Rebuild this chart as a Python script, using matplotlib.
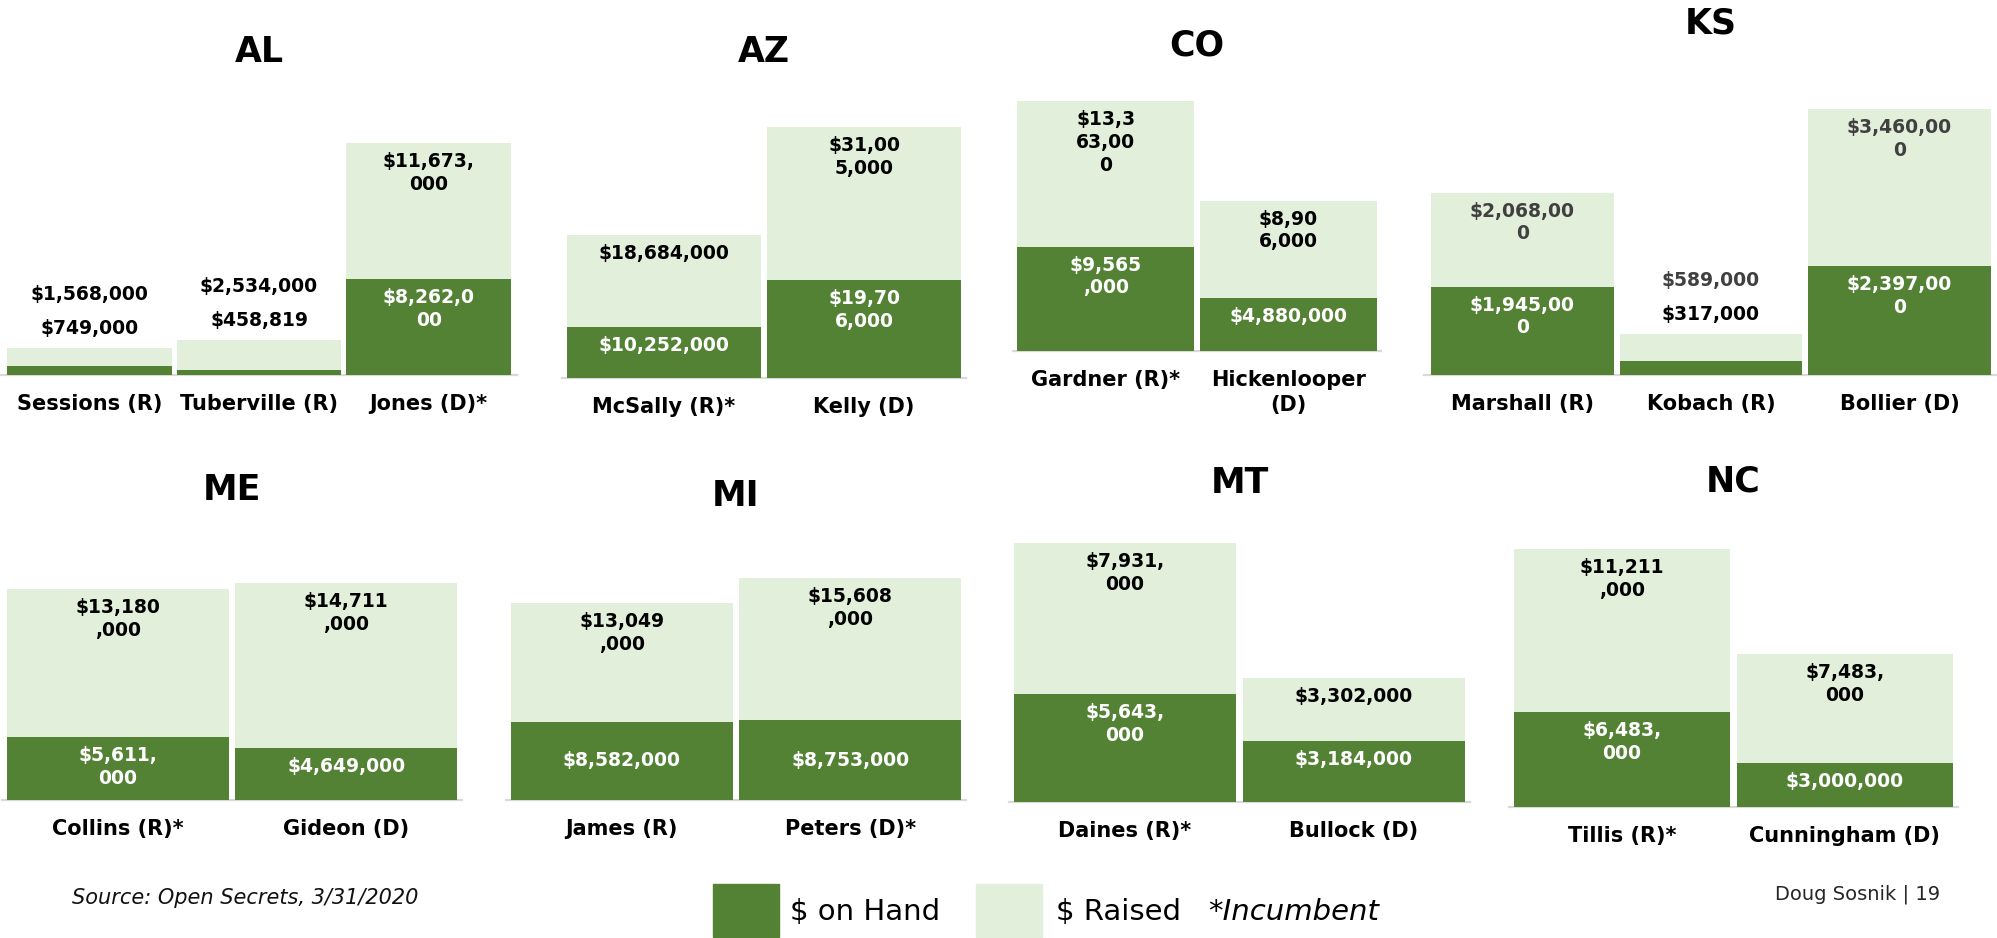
import matplotlib.pyplot as plt
from matplotlib.patches import Rectangle

plt.rcParams['text.parse_math'] = False
plt.rcParams['font.family'] = ['DejaVu Sans']

DARK = '#548235'
LIGHT = '#E2EFDA'

# --- data: cash on hand and money raised per candidate (Open Secrets, 3/31/2020) ---
states = ["AL", "AZ", "CO", "KS", "ME", "MI", "MT", "NC"]

al_names = ["Sessions (R)", "Tuberville (R)", "Jones (D)*"]
al_hand = [749000, 458819, 8262000]
al_raised = [1568000, 2534000, 11673000]

az_names = ["McSally (R)*", "Kelly (D)"]
az_hand = [10252000, 19706000]
az_raised = [18684000, 31005000]

co_names = ["Gardner (R)*", "Hickenlooper\n(D)"]
co_hand = [9565000, 4880000]
co_raised = [13363000, 8906000]

ks_names = ["Marshall (R)", "Kobach (R)", "Bollier (D)"]
ks_hand = [1945000, 317000, 2397000]
ks_raised = [2068000, 589000, 3460000]

me_names = ["Collins (R)*", "Gideon (D)"]
me_hand = [5611000, 4649000]
me_raised = [13180000, 14711000]

mi_names = ["James (R)", "Peters (D)*"]
mi_hand = [8582000, 8753000]
mi_raised = [13049000, 15608000]

mt_names = ["Daines (R)*", "Bullock (D)"]
mt_hand = [5643000, 3184000]
mt_raised = [7931000, 3302000]

nc_names = ["Tillis (R)*", "Cunningham (D)"]
nc_hand = [6483000, 3000000]
nc_raised = [11211000, 7483000]

# how many characters fit on one line of each data label (0 = no wrap), as in the slide
wrap_hand = {"AL": [0, 0, 8], "AZ": [0, 6], "CO": [6, 0], "KS": [9, 0, 9],
             "ME": [7, 0], "MI": [0, 0], "MT": [7, 0], "NC": [7, 0]}
wrap_raised = {"AL": [0, 0, 8], "AZ": [0, 6], "CO": [5, 5], "KS": [9, 0, 9],
               "ME": [7, 7], "MI": [7, 7], "MT": [7, 0], "NC": [7, 7]}

# --- layout in pixels: left, right, baseline, top of tallest bar, title y ---
W, H = 1997, 938
layout = {
    "AL": (7, 511, 375, 143, 52),
    "AZ": (567, 961, 378, 127, 52),
    "CO": (1017, 1377, 351, 101, 45),
    "KS": (1431, 1991, 375, 109, 23),
    "ME": (7, 457, 800, 583, 490),
    "MI": (511, 961, 800, 578, 496),
    "MT": (1014, 1465, 802, 543, 483),
    "NC": (1514, 1953, 807, 549, 482),
}

data = {
    "AL": (al_names, al_hand, al_raised),
    "AZ": (az_names, az_hand, az_raised),
    "CO": (co_names, co_hand, co_raised),
    "KS": (ks_names, ks_hand, ks_raised),
    "ME": (me_names, me_hand, me_raised),
    "MI": (mi_names, mi_hand, mi_raised),
    "MT": (mt_names, mt_hand, mt_raised),
    "NC": (nc_names, nc_hand, nc_raised),
}


def money(v, wrap):
    s = f"${v:,}"
    if wrap:
        s = "\n".join(s[i:i + wrap] for i in range(0, len(s), wrap))
    return s


PX = 0.72  # points per pixel at dpi 100
FS = 13.5
fig = plt.figure(figsize=(W / 100, H / 100), dpi=100)

for st in states:
    names, hand, raised = data[st]
    l, r, base, top, ty = layout[st]
    ax = fig.add_axes([l / W, 1 - base / H, (r - l) / W, (base - top) / H])
    n = len(names)
    x = list(range(n))
    totals = [h + g for h, g in zip(hand, raised)]
    ymax = max(totals)
    px_per_unit = (base - top) / ymax
    bw = 0.97

    ax.bar(x, hand, width=bw, color=DARK, zorder=2)
    ax.bar(x, raised, bottom=hand, width=bw, color=LIGHT, zorder=2)
    ax.set_xlim(-bw / 2, n - 1 + bw / 2)
    ax.set_ylim(0, ymax)
    ax.axhline(0, xmin=-0.012, xmax=1.012, color='#D9D9D9', lw=1.6, clip_on=False, zorder=1)
    for s in ax.spines.values():
        s.set_visible(False)
    ax.set_yticks([])
    ax.set_xticks(x, names)
    ax.tick_params(axis='x', length=0, pad=14, labelsize=15)
    for t in ax.get_xticklabels():
        t.set_fontweight('bold')
        t.set_linespacing(1.3)

    raised_col = '#404040' if st == "KS" else 'black'
    for i in x:
        hl = money(hand[i], wrap_hand[st][i])
        rl = money(raised[i], wrap_raised[st][i])
        if totals[i] * px_per_unit < 50:
            # bar too short: Excel pushes the labels above it
            ax.annotate(hl, (i, totals[i]), xytext=(0, 10 * PX), textcoords='offset points',
                        ha='center', va='bottom', fontsize=FS, fontweight='bold', color='black')
            ax.annotate(rl, (i, totals[i]), xytext=(0, 44 * PX), textcoords='offset points',
                        ha='center', va='bottom', fontsize=FS, fontweight='bold', color=raised_col)
            continue
        ax.annotate(rl, (i, totals[i]), xytext=(0, -9 * PX), textcoords='offset points',
                    ha='center', va='top', fontsize=FS, fontweight='bold', color=raised_col,
                    linespacing=1.25)
        if st == "MI":
            ax.text(i, hand[i] / 2, hl, ha='center', va='center', fontsize=FS,
                    fontweight='bold', color='white', linespacing=1.25)
        else:
            ax.annotate(hl, (i, hand[i]), xytext=(0, -9 * PX), textcoords='offset points',
                        ha='center', va='top', fontsize=FS, fontweight='bold', color='white',
                        linespacing=1.25)

    fig.text((l + r) / 2 / W, 1 - ty / H, st, ha='center', va='center',
             fontsize=25, fontweight='bold')

# --- footer: source, legend, credit ---
fig.text(72 / W, 1 - 898 / H, "Source: Open Secrets, 3/31/2020", ha='left', va='center',
         fontsize=15, style='italic', color='#111111')

fig.add_artist(Rectangle((713 / W, 1 - 937 / H), 66 / W, 53 / H, color=DARK,
                         transform=fig.transFigure))
fig.text(790 / W, 1 - 912 / H, "$ on Hand", ha='left', va='center', fontsize=21)
fig.add_artist(Rectangle((976 / W, 1 - 937 / H), 66 / W, 53 / H, color=LIGHT,
                         transform=fig.transFigure))
fig.text(1056 / W, 1 - 912 / H, "$ Raised", ha='left', va='center', fontsize=21)
fig.text(1208 / W, 1 - 912 / H, "*Incumbent", ha='left', va='center', fontsize=21,
         style='italic')

fig.text(1940 / W, 1 - 894 / H, "Doug Sosnik | 19", ha='right', va='center',
         fontsize=14, color='#262626')

fig.savefig("out.png", dpi=100)
